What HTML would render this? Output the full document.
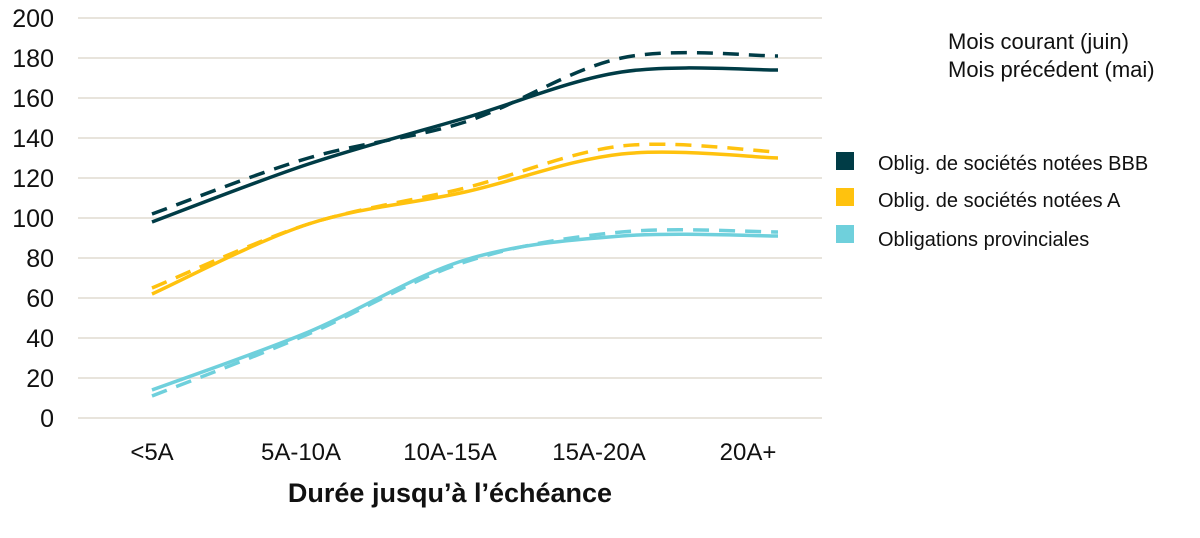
<!DOCTYPE html>
<html><head><meta charset="utf-8"><style>
body{margin:0;background:#fff;width:1200px;height:533px;overflow:hidden;font-family:"Liberation Sans",sans-serif;}
</style></head><body>
<svg id="chart" width="1200" height="533" xmlns="http://www.w3.org/2000/svg" font-family="Liberation Sans, sans-serif">
<g id="grid"></g>
<g id="yticks"></g>
<g id="xticks"></g>
<g id="series"></g>
<text x="450" y="502" text-anchor="middle" font-size="27" font-weight="bold" fill="#111">Durée jusqu’à l’échéance</text>
<g fill="#111">
<text x="948" y="49" font-size="22">Mois courant (juin)</text>
<text x="948" y="77" font-size="22">Mois précédent (mai)</text>
<rect x="836" y="152" width="18" height="18" fill="#003c46"/>
<text x="878" y="170" font-size="20">Oblig. de sociétés notées BBB</text>
<rect x="836" y="188" width="18" height="18" fill="#ffc20e"/>
<text x="878" y="207" font-size="20">Oblig. de sociétés notées A</text>
<rect x="836" y="225" width="18" height="18" fill="#6fd0dc"/>
<text x="878" y="246" font-size="20">Obligations provinciales</text>
</g>
</svg>
<script>
const categories = ["<5A","5A-10A","10A-15A","15A-20A","20A+"];
const yTicks = [0,20,40,60,80,100,120,140,160,180,200];
const bbbCurrent = [98,127,150,173,174];
const bbbPrevious = [102,130,148,180,181];
const aCurrent = [62,97,113,132,130];
const aPrevious = [65,97,115,136,133];
const provCurrent = [14,43,79,91,91];
const provPrevious = [11,42,78,93,93];
const NS="http://www.w3.org/2000/svg";
const y = v => 418 - v*2.0;
const x = i => 152 + i*156.5;
const labelX = i => 152 + i*149;
function mk(tag, attrs, parent){const e=document.createElementNS(NS,tag);for(const k in attrs)e.setAttribute(k,attrs[k]);parent.appendChild(e);return e;}
const grid=document.getElementById('grid'), yt=document.getElementById('yticks'), xt=document.getElementById('xticks'), ser=document.getElementById('series');
yTicks.forEach(v=>{
  const l=mk('line',{x1:78,x2:822,y1:y(v),y2:y(v),stroke:'#e8e4dc','stroke-width':2},grid);
  
  
  const t=mk('text',{x:54,y:y(v)+9,'text-anchor':'end','font-size':25,fill:'#111'},yt);
  t.textContent=v;
  
  
});
categories.forEach((c,i)=>{
  const t=mk('text',{x:labelX(i),y:460,'text-anchor':'middle','font-size':24,fill:'#111'},xt);
  t.textContent=c;
  
  
});
function path(vals){
  const p=vals.map((v,i)=>[x(i),y(v)]);
  let d='M'+p[0][0]+','+p[0][1];
  for(let i=0;i<p.length-1;i++){
    const p0=p[i-1]||p[i],p1=p[i],p2=p[i+1],p3=p[i+2]||p2;
    const c1=[p1[0]+(p2[0]-p0[0])/6,p1[1]+(p2[1]-p0[1])/6];
    const c2=[p2[0]-(p3[0]-p1[0])/6,p2[1]-(p3[1]-p1[1])/6];
    d+=` C${c1[0]},${c1[1]} ${c2[0]},${c2[1]} ${p2[0]},${p2[1]}`;
  }
  return d;
}
const seriesList=[
 [bbbPrevious,'#003c46',true,'line-bbb-previous'],[bbbCurrent,'#003c46',false,'line-bbb-current'],
 [aPrevious,'#ffc20e',true,'line-a-previous'],[aCurrent,'#ffc20e',false,'line-a-current'],
 [provPrevious,'#6fd0dc',true,'line-provincial-previous'],[provCurrent,'#6fd0dc',false,'line-provincial-current']];
seriesList.forEach(s=>{
  const a={d:path(s[0]),fill:'none',stroke:s[1],'stroke-width':3.5};
  if(s[2])a['stroke-dasharray']='16,10';
  const e=mk('path',a,ser);
  
  
});
</script>
</body></html>
